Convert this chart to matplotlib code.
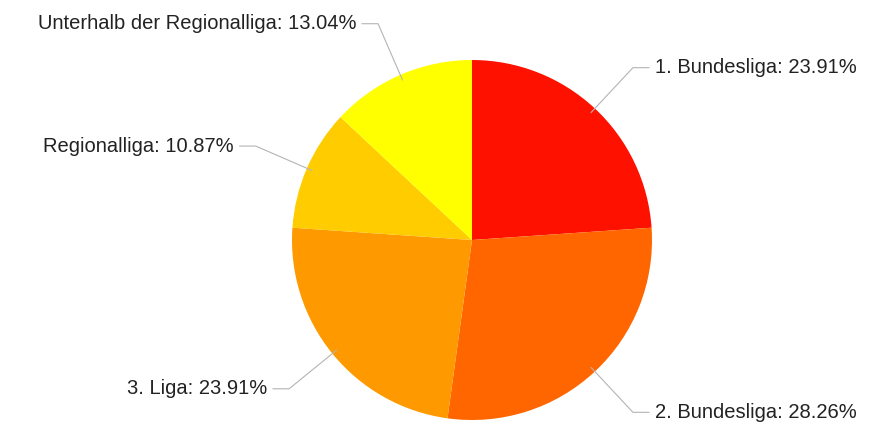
import numpy as np
import matplotlib.pyplot as plt

plt.rcParams['font.family'] = ['Liberation Sans', 'DejaVu Sans']

labels = ['1. Bundesliga', '2. Bundesliga', '3. Liga', 'Regionalliga',
          'Unterhalb der Regionalliga']
counts = [11, 13, 11, 5, 6]
colors = ['#ff1100', '#ff6600', '#ff9900', '#ffcc00', '#ffff00']

W, H = 883, 432
fig = plt.figure(figsize=(W / 100, H / 100), dpi=100)
ax = fig.add_axes([0, 0, 1, 1])

cx, cy, r = 472, H - 240, 180
wedges, _ = ax.pie(counts, colors=colors, startangle=90, counterclock=False,
                   center=(cx, cy), radius=r,
                   wedgeprops=dict(linewidth=0))
ax.set_xlim(0, W)
ax.set_ylim(0, H)
ax.set_aspect('equal')
ax.axis('off')

total = sum(counts)
for w, lab, c in zip(wedges, labels, counts):
    ang = np.deg2rad((w.theta1 + w.theta2) / 2)
    dx, dy = np.cos(ang), np.sin(ang)
    p0 = (cx + 0.97 * r * dx, cy + 0.97 * r * dy)
    p1 = (cx + 1.31 * r * dx, cy + 1.31 * r * dy)
    side = 1 if dx > 0 else -1
    p2 = (p1[0] + side * 16, p1[1])
    ax.plot([p0[0], p1[0], p2[0]], [p0[1], p1[1], p2[1]],
            color='#b4b4b4', lw=0.8)
    ax.text(p2[0] + side * 6, p2[1], f'{lab}: {100 * c / total:.2f}%',
            ha='left' if side > 0 else 'right', va='center',
            fontsize=14.5, color='#222222')

fig.savefig('out.png', dpi=100)
